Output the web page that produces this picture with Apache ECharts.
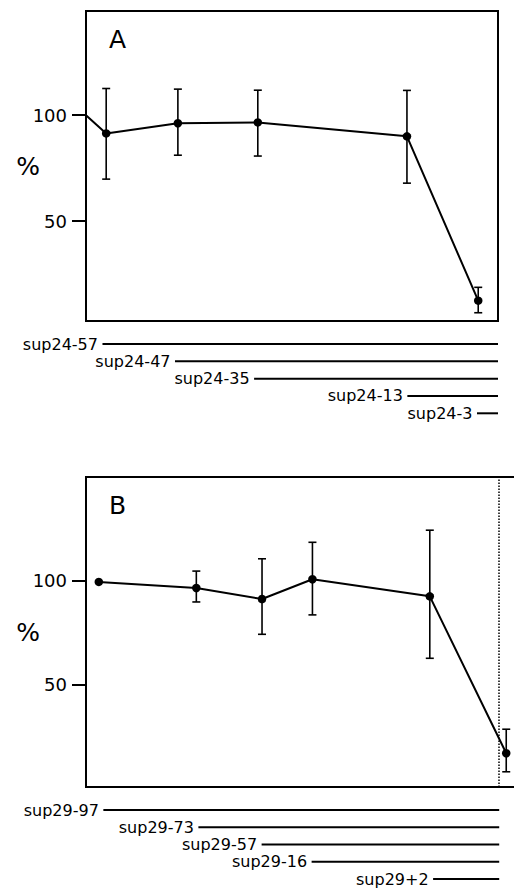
<!DOCTYPE html>
<html>
<head>
<meta charset="utf-8">
<script src="https://cdn.jsdelivr.net/npm/echarts@6/dist/echarts.min.js"></script>
<style>
html,body{margin:0;padding:0;background:#fff;}
#chart{width:514px;height:888px;}
</style>
</head>
<body>
<div id="chart"></div>
<script>
// ---------- Panel A data ----------
const panelA_pos = [0, 4.9, 22.3, 41.7, 77.9, 95.2];          // relative position along construct
const panelA_pct = [100, 91.4, 96.2, 96.6, 90.0, 12.4];
const panelA_errHigh = [null, 112.6, 112.3, 111.8, 111.7, 18.7];
const panelA_errLow  = [null, 69.8, 81.1, 80.7, 67.9, 6.7];
const constructsA = ['sup24-57', 'sup24-47', 'sup24-35', 'sup24-13', 'sup24-3'];
const constructsA_start = [4.0, 21.6, 40.8, 78.0, 94.9];
const constructsA_end   = [100, 100, 100, 100, 100];

// ---------- Panel B data ----------
const panelB_pos = [3.1, 26.7, 42.6, 54.8, 83.2, 101.7];
const panelB_pct = [99.4, 96.5, 91.2, 100.7, 92.5, 17.3];
const panelB_errHigh = [null, 104.6, 110.5, 118.4, 124.2, 28.8];
const panelB_errLow  = [null, 89.8, 74.3, 83.6, 62.8, 8.4];
const constructsB = ['sup29-97', 'sup29-73', 'sup29-57', 'sup29-16', 'sup29+2'];
const constructsB_start = [4.2, 27.2, 42.5, 54.6, 84.0];
const constructsB_end   = [100, 100, 100, 100, 100];
const panelB_marker = 100;

const yTicks = [50, 100];
const panelLetters = ['A', 'B'];

const FONT = 'DejaVu Sans';
const chart = echarts.init(document.getElementById('chart'), null, {renderer: 'svg'});

function errData(pos, lo, hi) {
  const out = [];
  pos.forEach((x, i) => { if (lo[i] != null) out.push([x, lo[i], hi[i]]); });
  return out;
}
function errRender(params, api) {
  const x = api.value(0);
  const pLo = api.coord([x, api.value(1)]);
  const pHi = api.coord([x, api.value(2)]);
  const w = 4;
  const st = {stroke: '#000', lineWidth: 1.6};
  return {type: 'group', children: [
    {type: 'line', shape: {x1: pHi[0], y1: pHi[1], x2: pLo[0], y2: pLo[1]}, style: st},
    {type: 'line', shape: {x1: pHi[0]-w, y1: pHi[1], x2: pHi[0]+w, y2: pHi[1]}, style: st},
    {type: 'line', shape: {x1: pLo[0]-w, y1: pLo[1], x2: pLo[0]+w, y2: pLo[1]}, style: st}
  ]};
}
function mainY(min, max, gi) {
  return {
    type: 'value', gridIndex: gi, min: min, max: max,
    name: '%', nameLocation: 'middle', nameRotate: 0, nameGap: 58, nameMoveOverlap: false,
    nameTextStyle: {fontFamily: FONT, fontSize: 25, color: '#000', align: 'center', verticalAlign: 'middle'},
    axisLine: {show: false}, splitLine: {show: false},
    axisTick: {show: true, length: 14, lineStyle: {color: '#000', width: 2}, customValues: yTicks},
    axisLabel: {customValues: yTicks, margin: 19, fontFamily: FONT, fontSize: 18, color: '#000'}
  };
}
function constructSeries(names, starts, ends, xi) {
  return names.map((n, i) => ({
    type: 'line', xAxisIndex: xi, yAxisIndex: xi, silent: true, clip: false,
    symbol: 'circle', symbolSize: 1, showSymbol: true,
    itemStyle: {color: 'rgba(0,0,0,0)'},
    lineStyle: {color: '#000', width: 2},
    data: [
      {value: [starts[i], i], label: {show: true, position: 'left', distance: 4, formatter: n,
        fontFamily: FONT, fontSize: 16, color: '#000'}},
      {value: [ends[i], i]}
    ]
  }));
}

const lineA = panelA_pos.map((x, i) => i === 0 ? {value: [x, panelA_pct[i]], symbol: 'none'} : [x, panelA_pct[i]]);
const lineB = panelB_pos.map((x, i) => [x, panelB_pct[i]]);

const option = {
  backgroundColor: '#fff',
  animation: false,
  graphic: [
    {type: 'text', left: 109, top: 27, style: {text: panelLetters[0], font: '25px "DejaVu Sans"', fill: '#000'}},
    {type: 'text', left: 109, top: 493, style: {text: panelLetters[1], font: '25px "DejaVu Sans"', fill: '#000'}}
  ],
  grid: [
    {left: 86, top: 11, width: 412, height: 310, show: true, borderColor: '#000', borderWidth: 2, backgroundColor: 'transparent', outerBoundsMode: 'none'},
    {left: 86, top: 344, width: 412, height: 69.3, outerBoundsMode: 'none'},
    {left: 86, top: 477, width: 438, height: 310, show: true, borderColor: '#000', borderWidth: 2, backgroundColor: 'transparent', outerBoundsMode: 'none'},
    {left: 86, top: 810, width: 438, height: 69, outerBoundsMode: 'none'}
  ],
  xAxis: [
    {type: 'value', gridIndex: 0, min: 0, max: 100, show: false},
    {type: 'value', gridIndex: 1, min: 0, max: 100, show: false},
    {type: 'value', gridIndex: 2, min: 0, max: 106, show: false},
    {type: 'value', gridIndex: 3, min: 0, max: 106, show: false}
  ],
  yAxis: [
    mainY(2.8, 149.2, 0),
    {type: 'value', gridIndex: 1, min: 0, max: 4, inverse: true, show: false},
    mainY(1.1, 149.7, 2),
    {type: 'value', gridIndex: 3, min: 0, max: 4, inverse: true, show: false}
  ],
  series: [
    {type: 'custom', xAxisIndex: 0, yAxisIndex: 0, renderItem: errRender, data: errData(panelA_pos, panelA_errLow, panelA_errHigh), silent: true, clip: false, z: 2},
    {type: 'line', xAxisIndex: 0, yAxisIndex: 0, data: lineA, symbol: 'circle', symbolSize: 8.5, clip: false,
      itemStyle: {color: '#000'}, lineStyle: {color: '#000', width: 2}, z: 3},
    ...constructSeries(constructsA, constructsA_start, constructsA_end, 1),
    {type: 'custom', xAxisIndex: 2, yAxisIndex: 2, renderItem: errRender, data: errData(panelB_pos, panelB_errLow, panelB_errHigh), silent: true, clip: false, z: 2},
    {type: 'line', xAxisIndex: 2, yAxisIndex: 2, data: lineB, symbol: 'circle', symbolSize: 8.5, clip: false,
      itemStyle: {color: '#000'}, lineStyle: {color: '#000', width: 2}, z: 3,
      markLine: {silent: true, symbol: ['none', 'none'], label: {show: false},
        lineStyle: {type: 'dotted', color: '#000', width: 1.5},
        data: [{xAxis: panelB_marker}]}},
    ...constructSeries(constructsB, constructsB_start, constructsB_end, 3)
  ]
};
chart.setOption(option);
</script>
</body>
</html>
